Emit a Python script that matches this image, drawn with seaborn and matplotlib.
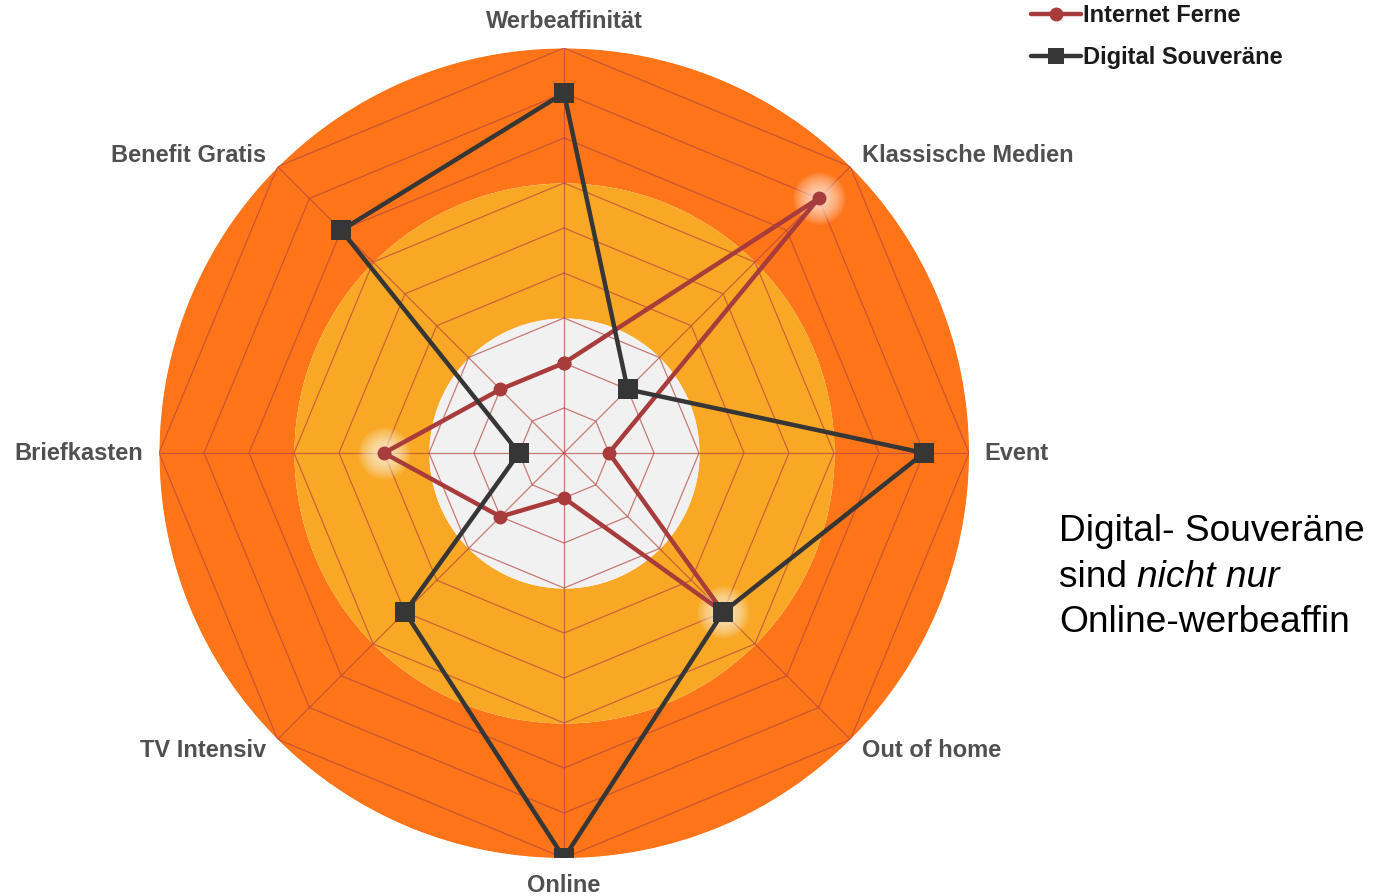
import numpy as np
import pandas as pd
import matplotlib
matplotlib.use("Agg")
import matplotlib.pyplot as plt
from matplotlib.lines import Line2D
import seaborn as sns

# ---------------- data ----------------
categories = ["Werbeaffinität", "Klassische Medien", "Event", "Out of home",
              "Online", "TV Intensiv", "Briefkasten", "Benefit Gratis"]
internet_ferne = [2, 8, 1, 5, 1, 2, 4, 2]
digital_souveraene = [8, 2, 8, 5, 9, 5, 1, 7]
series_names = ["Internet Ferne", "Digital Souveräne"]
highlighted = ["Klassische Medien", "Out of home", "Briefkasten"]
r_max = 9
bands = [(6, 9), (3, 6), (0, 3)]
note_line1 = "Digital- Souveräne"
note_line2a = "sind "
note_line2b = "nicht nur"
note_line3 = "Online-werbeaffin"

# ---------------- style ----------------
sns.set_theme(style="white")
plt.rcParams['font.family'] = ['Liberation Sans', 'DejaVu Sans']

col_if = "#A83B3B"
col_ds = "#363636"
band_colors = ["#FE7418", "#F8A824", "#F1F1F1"]
grid_col = "#B4463F"

W, H = 1376, 896
fig = plt.figure(figsize=(W / 100, H / 100), dpi=100)
cx, cy, R = 564, 453, 405
ax = fig.add_axes([(cx - R) / W, (H - cy - R) / H, 2 * R / W, 2 * R / H], projection='polar')
ax.set_theta_zero_location('N')
ax.set_theta_direction(-1)
ax.set_ylim(0, r_max)
ax.set_facecolor('none')
ax.grid(False)
ax.set_xticks([])
ax.set_yticks([])
ax.spines['polar'].set_visible(False)

n = len(categories)
theta = np.arange(n) * 2 * np.pi / n
theta_closed = np.append(theta, 2 * np.pi)

# background bands
full = np.linspace(0, 2 * np.pi, 721)
for (lo, hi), c in zip(bands, band_colors):
    ax.fill_between(full, lo, hi, color=c, lw=0, zorder=0)

# octagon grid
for k in range(1, r_max + 1):
    ax.plot(theta_closed, [k] * (n + 1), color=grid_col, lw=0.9, alpha=0.7, zorder=1)
for t in theta:
    ax.plot([t, t], [0, r_max], color=grid_col, lw=0.9, alpha=0.7, zorder=1)

# soft glow for highlighted points
for cat in highlighted:
    i = categories.index(cat)
    for s in range(38, 12, -2):
        ax.plot(theta[i], internet_ferne[i], 'o', ms=s, color='white', alpha=0.07,
                mec='none', zorder=2)

# series via seaborn
df_if = pd.DataFrame({"theta": theta_closed,
                      "value": internet_ferne + internet_ferne[:1]})
df_ds = pd.DataFrame({"theta": theta_closed,
                      "value": digital_souveraene + digital_souveraene[:1]})
sns.lineplot(data=df_if, x="theta", y="value", sort=False, estimator=None,
             color=col_if, lw=3.2, marker='o', markersize=10, markeredgewidth=0,
             ax=ax, zorder=4, legend=False)
sns.lineplot(data=df_ds, x="theta", y="value", sort=False, estimator=None,
             color=col_ds, lw=3.2, marker='s', markersize=15, markeredgewidth=0,
             ax=ax, zorder=5, legend=False)
ax.set_xlabel("")
ax.set_ylabel("")
ax.set_ylim(0, r_max)

# category labels
for i, cat in enumerate(categories):
    t = theta[i]
    s = np.sin(t)
    if s > 0.1:
        ha, r = 'left', 9.35
    elif s < -0.1:
        ha, r = 'right', 9.35
    else:
        ha, r = 'center', 9.6
    ax.text(t, r, cat, ha=ha, va='center', fontsize=17, fontweight='bold',
            color='#505050', zorder=6)

# legend
handles = [Line2D([], [], color=col_if, lw=3.2, marker='o', ms=10, mew=0),
           Line2D([], [], color=col_ds, lw=3.2, marker='s', ms=12, mew=0)]
leg = fig.legend(handles, series_names, loc='upper left',
                 bbox_to_anchor=(1022 / W, 1 + 5 / H), frameon=False,
                 fontsize=17, handlelength=2.1, handletextpad=0.1,
                 labelspacing=0.78, borderaxespad=0)
for txt in leg.get_texts():
    txt.set_fontweight('bold')
    txt.set_color('#1a1a1a')

# side note
fs_note = 26.7
fig.text(1059 / W, 1 - 531 / H, note_line1, fontsize=fs_note, color='black', va='center')
t2 = fig.text(1059 / W, 1 - 577 / H, note_line2a, fontsize=fs_note, color='black', va='center')
fig.canvas.draw()
bb = t2.get_window_extent()
fig.text(bb.x1 / W, 1 - 577 / H, note_line2b, fontsize=fs_note, color='black',
         va='center', style='italic')
fig.text(1059 / W, 1 - 622 / H, note_line3, fontsize=fs_note, color='black', va='center')

fig.savefig("out.png", dpi=100)
